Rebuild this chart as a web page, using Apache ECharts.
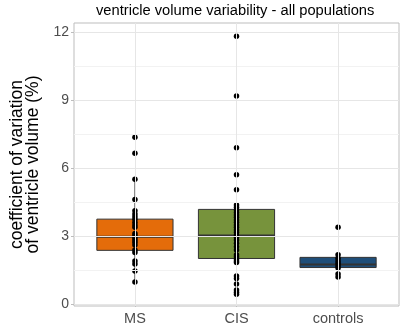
<!DOCTYPE html>
<html>
<head>
<meta charset="utf-8">
<script src="https://cdn.jsdelivr.net/npm/echarts@6/dist/echarts.min.js"></script>
<style>
  html, body { margin: 0; padding: 0; background: #fff; }
  #chart { width: 400px; height: 327px; }
</style>
</head>
<body>
<div id="chart"></div>
<script>
    const groups = ['MS', 'CIS', 'controls'];
    const groupColors = ['#E46C0A', '#77933C', '#1F4E79'];

    // box stats per group: [lower whisker, Q1, median, Q3, upper whisker]
    const msBox = [0.96, 2.37, 2.97, 3.75, 5.51];
    const cisBox = [0.43, 2.01, 3.03, 4.18, 6.91];
    const controlsBox = [1.19, 1.61, 1.75, 2.06, 2.17];

    // individual subjects
    const msPoints = [7.37, 6.66, 5.51, 4.62, 4.12, 3.98, 3.86, 3.74, 3.61, 3.49, 3.39,
        3.12, 3.02, 2.93, 2.83, 2.73, 2.61, 2.39, 2.28, 1.90, 1.77, 1.46, 0.97];
    const cisPoints = [11.83, 9.19, 6.91, 5.71, 5.05, 4.37, 4.27, 4.15, 4.04, 3.93, 3.83,
        3.71, 3.61, 3.49, 3.39, 3.27, 3.17, 3.05, 2.95, 2.83, 2.68, 2.53, 2.39, 2.17,
        2.09, 1.99, 1.90, 1.83, 1.24, 1.13, 0.88, 0.62, 0.52, 0.43];
    const controlsPoints = [3.39, 2.17, 2.02, 1.90, 1.80, 1.69, 1.59, 1.33, 1.19];

    const yTicks = [0, 3, 6, 9, 12];
    const yMinorLines = [1.5, 4.5, 7.5, 10.5];

    const boxWidth = 0.75;
    const fontFamily = '"Liberation Sans", Arial, sans-serif';

    const boxData = [msBox, cisBox, controlsBox].map((b, i) => [i + 1].concat(b));
    const pointData = [];
    [msPoints, cisPoints, controlsPoints].forEach((list, i) => {
        list.forEach(v => pointData.push([i + 1, v]));
    });

    function renderBox(params, api) {
        const x = api.value(0);
        const lo = api.coord([x, api.value(1)]);
        const q1 = api.coord([x, api.value(2)]);
        const med = api.coord([x, api.value(3)]);
        const q3 = api.coord([x, api.value(4)]);
        const hi = api.coord([x, api.value(5)]);
        const half = api.size([boxWidth, 0])[0] / 2;
        const stroke = '#333333';
        return {
            type: 'group',
            children: [
                {type: 'line', shape: {x1: lo[0], y1: lo[1], x2: q1[0], y2: q1[1]}, style: {stroke: stroke, lineWidth: 1}},
                {type: 'line', shape: {x1: q3[0], y1: q3[1], x2: hi[0], y2: hi[1]}, style: {stroke: stroke, lineWidth: 1}},
                {
                    type: 'rect',
                    shape: {x: q3[0] - half, y: q3[1], width: half * 2, height: q1[1] - q3[1]},
                    style: {fill: groupColors[params.dataIndex], stroke: stroke, lineWidth: 1}
                },
                {type: 'line', shape: {x1: med[0] - half, y1: med[1], x2: med[0] + half, y2: med[1]}, style: {stroke: stroke, lineWidth: 2}}
            ]
        };
    }

    const chart = echarts.init(document.getElementById('chart'));
    chart.setOption({
        animation: false,
        textStyle: {fontFamily: fontFamily},
        title: {
            text: 'ventricle volume variability - all populations',
            left: 96,
            top: 3,
            padding: 0,
            textStyle: {fontSize: 14.7, fontWeight: 'normal', color: '#000', fontFamily: fontFamily}
        },
        grid: {
            left: 64, top: 23, width: 335, height: 283,
            show: true, borderColor: '#BDBDBD', borderWidth: 1, backgroundColor: '#fff'
        },
        xAxis: {
            type: 'value',
            min: 0.4,
            max: 3.6,
            axisLine: {show: false},
            splitLine: {show: false},
            axisTick: {show: true, customValues: [1, 2, 3], length: 3, lineStyle: {color: '#BDBDBD'}},
            axisLabel: {
                customValues: [1, 2, 3],
                formatter: v => groups[Math.round(v) - 1] || '',
                color: '#4D4D4D', fontSize: 14.5, margin: 5, fontFamily: fontFamily
            }
        },
        yAxis: {
            type: 'value',
            min: -0.09,
            max: 12.42,
            name: 'coefficient of variation\nof ventricle volume (%)',
            nameLocation: 'middle',
            nameGap: 33,
            nameTextStyle: {fontSize: 17.5, lineHeight: 16, color: '#000', fontFamily: fontFamily},
            axisLine: {show: false},
            splitLine: {show: false},
            axisTick: {show: true, customValues: yTicks, length: 3, lineStyle: {color: '#BDBDBD'}},
            axisLabel: {customValues: yTicks, color: '#4D4D4D', fontSize: 14, margin: 5, fontFamily: fontFamily}
        },
        series: [
            {
                type: 'line',
                data: [],
                silent: true,
                markLine: {
                    silent: true,
                    symbol: 'none',
                    label: {show: false},
                    animation: false,
                    data: yMinorLines.map(v => ({yAxis: v, lineStyle: {color: '#F2F2F2', width: 1, type: 'solid'}}))
                        .concat(yTicks.map(v => ({yAxis: v, lineStyle: {color: '#E6E6E6', width: 1, type: 'solid'}})))
                        .concat(groups.map((g, i) => ({xAxis: i + 1, lineStyle: {color: '#E6E6E6', width: 1, type: 'solid'}})))
                }
            },
            {
                type: 'custom',
                renderItem: renderBox,
                encode: {x: 0, y: [1, 2, 3, 4, 5]},
                data: boxData,
                z: 3
            },
            {
                type: 'scatter',
                data: pointData,
                symbol: 'circle',
                symbolSize: 5.5,
                itemStyle: {color: '#000', opacity: 1, borderWidth: 0},
                z: 4
            }
        ]
    });
</script>
</body>
</html>
